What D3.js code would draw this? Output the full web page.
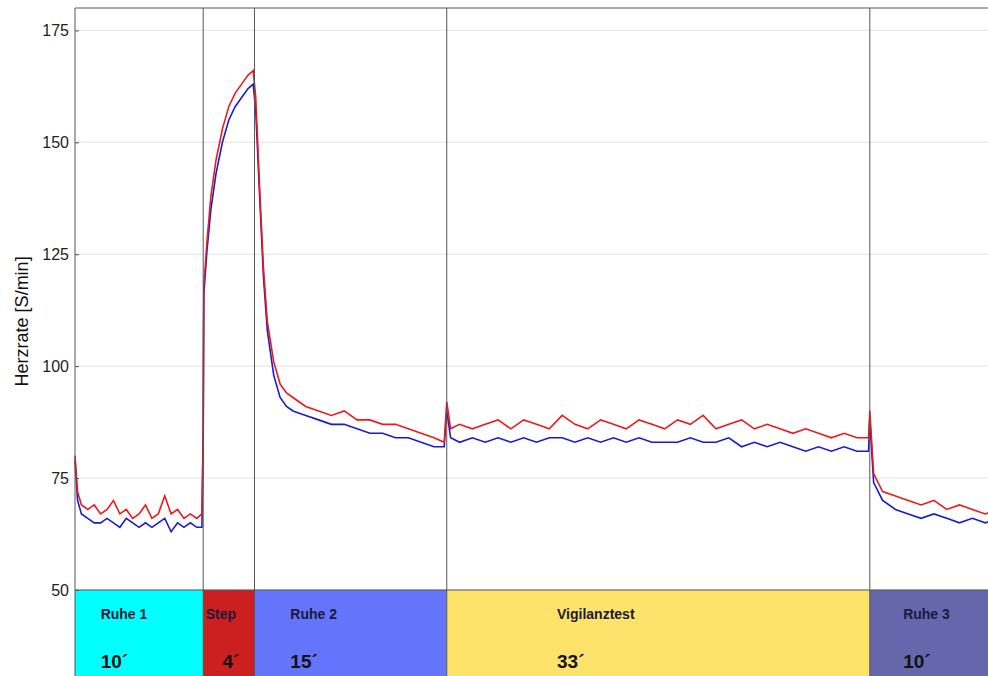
<!DOCTYPE html>
<html><head><meta charset="utf-8">
<script src="https://d3js.org/d3.v7.min.js"></script>
<style>body{margin:0;background:#fff}</style></head>
<body><svg id="c" width="988" height="676"></svg>
<script>
const times = [0,0.2,0.5,1,1.5,2,2.5,3,3.5,4,4.5,5,5.5,6,6.5,7,7.5,8,8.5,9,9.5,9.9,
  10,10.05,10.3,10.6,11,11.5,12,12.5,13,13.5,13.9,14.1,14.4,14.7,15,15.5,16,16.5,17,18,19,20,21,22,23,24,25,26,27,28,28.8,
  29,29.3,30,31,32,33,34,35,36,37,38,39,40,41,42,43,44,45,46,47,48,49,50,51,52,53,54,55,56,57,58,59,60,61,61.9,
  62,62.3,63,64,65,66,67,68,69,70,71,72];
const red = [80,72,69,68,69,67,68,70,67,68,66,67,69,66,67,71,67,68,66,67,66,67,
  86,118,128,138,146,153,158,161,163,165,166,160,140,122,110,101,96,94,93,91,90,89,90,88,88,87,87,86,85,84,83,
  92,86,87,86,87,88,86,88,87,86,89,87,86,88,87,86,88,87,86,88,87,89,86,87,88,86,87,86,85,86,85,84,85,84,84,
  90,76,72,71,70,69,70,68,69,68,67,68];
const blue = [79,70,67,66,65,65,66,65,64,66,65,64,65,64,65,66,63,65,64,65,64,64,
  84,116,126,135,143,150,155,158,160,162,163,157,138,120,108,98,93,91,90,89,88,87,87,86,85,85,84,84,83,82,82,
  90,84,83,84,83,84,83,84,83,84,84,83,84,83,84,83,84,83,83,83,84,83,83,84,82,83,82,83,82,81,82,81,82,81,81,
  88,74,70,68,67,66,67,66,65,66,65,66];
const phases = ["Ruhe 1","Step","Ruhe 2","Vigilanztest","Ruhe 3"];
const durations = [10,4,15,33,10];
const phaseColors = ["#00ffff","#cc1f1f","#6475fb","#fde36a","#6666ad"];
const yTicks = [50,75,100,125,150,175];

const svg = d3.select("#c");
const x = d3.scaleLinear().domain([0,72]).range([75,998]);
const y = d3.scaleLinear().domain([50,180]).range([590,8]);

svg.append("g").selectAll("line").data(yTicks).join("line")
  .attr("x1",75).attr("x2",998).attr("y1",d=>y(d)).attr("y2",d=>y(d))
  .attr("stroke","#e4e4e4");

const starts = d3.cumsum([0].concat(durations)).slice(0,-1);

const bands = svg.append("g");
phases.forEach((p,i)=>{
  const x0 = x(starts[i]), x1 = x(starts[i]+durations[i]);
  bands.append("rect").attr("x",x0).attr("y",590).attr("width",x1-x0).attr("height",90).attr("fill",phaseColors[i]);
});
const lblX = [2,0.2,2.8,8.6,2.6];
const durX = [2,1.5,2.8,8.6,2.6];
phases.forEach((p,i)=>{
  bands.append("text").attr("x",x(starts[i]+lblX[i])).attr("y",619)
    .attr("font-family","Liberation Sans, Arial").attr("font-weight","bold").attr("font-size",14)
    .attr("fill","#1a1a3a").text(p);
  bands.append("text").attr("x",x(starts[i]+durX[i])).attr("y",668)
    .attr("font-family","Liberation Sans, Arial").attr("font-weight","bold").attr("font-size",19)
    .attr("fill","#111").text(durations[i]+"´");
});

const line = d3.line().x((d,i)=>x(times[i])).y(d=>y(d));
svg.append("path").datum(blue).attr("d",line).attr("fill","none").attr("stroke","#1a1ad0").attr("stroke-width",1.6);
svg.append("path").datum(red).attr("d",line).attr("fill","none").attr("stroke","#e81c1c").attr("stroke-width",1.6);

svg.append("g").selectAll("line").data(starts.slice(1)).join("line")
  .attr("x1",d=>x(d)).attr("x2",d=>x(d)).attr("y1",8).attr("y2",676).attr("stroke","#555");

svg.append("line").attr("x1",75).attr("x2",998).attr("y1",8).attr("y2",8).attr("stroke","#555");
svg.append("line").attr("x1",75).attr("x2",998).attr("y1",590).attr("y2",590).attr("stroke","#555");
const ax = svg.append("g").attr("transform","translate(75,0)")
  .call(d3.axisLeft(y).tickValues(yTicks).tickSize(-4).tickPadding(6));
ax.select(".domain").attr("stroke","#555").attr("d","M0,8V676");
ax.selectAll("text").attr("font-family","Liberation Sans, Arial").attr("font-size",16).attr("fill","#222");
ax.selectAll(".tick line").attr("stroke","#555");

svg.append("text").attr("transform","translate(28,"+y(110)+") rotate(-90)").attr("text-anchor","middle")
  .attr("font-family","Liberation Sans, Arial").attr("font-size",18).attr("fill","#111").text("Herzrate [S/min]");
</script></body></html>
